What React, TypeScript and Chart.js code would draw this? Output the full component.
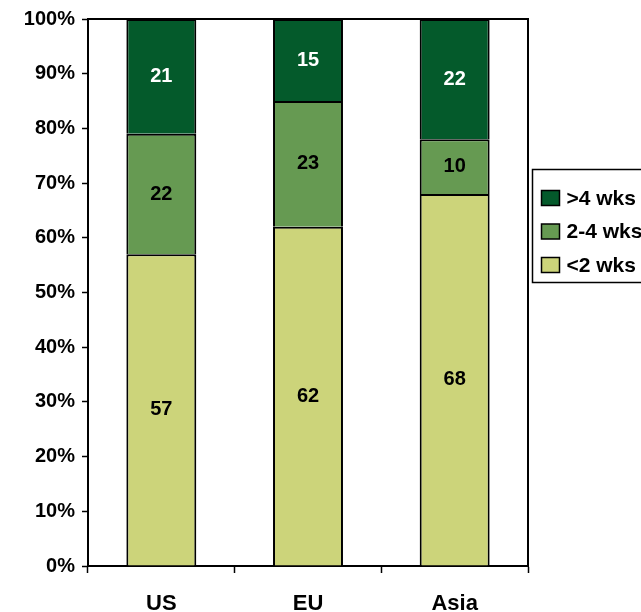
import React, { useEffect, useRef } from "react";
import { Chart, registerables } from "chart.js";

Chart.register(...registerables);

const regions = ["US", "EU", "Asia"];
const under2Weeks = [57, 62, 68];
const twoToFourWeeks = [22, 23, 10];
const over4Weeks = [21, 15, 22];
const percentTicks = [0, 10, 20, 30, 40, 50, 60, 70, 80, 90, 100];

const FONT = "'Liberation Sans', Arial, sans-serif";
const LIGHT = "#CCD47A";
const MID = "#669A52";
const DARK = "#045A2B";

// Value labels centred inside each stacked segment
const segmentLabels = {
  id: "segmentLabels",
  afterDatasetsDraw(chart: any) {
    const ctx = chart.ctx;
    ctx.save();
    ctx.font = `bold 20px ${FONT}`;
    ctx.textAlign = "center";
    ctx.textBaseline = "middle";
    chart.data.datasets.forEach((ds: any, i: number) => {
      const meta = chart.getDatasetMeta(i);
      ctx.fillStyle = ds.labelColor;
      meta.data.forEach((bar: any, j: number) => {
        const y = (bar.y + bar.base) / 2;
        ctx.fillText(String(ds.data[j]), bar.x, y);
      });
    });
    ctx.restore();
  },
};

// Frame line along the top and right of the plot, plus the boxed legend
const frameAndLegend = {
  id: "frameAndLegend",
  afterDraw(chart: any) {
    const ctx = chart.ctx;
    const { left, right, top, bottom } = chart.chartArea;
    ctx.save();
    ctx.strokeStyle = "#000";
    ctx.lineWidth = 2;
    ctx.beginPath();
    ctx.moveTo(left, top);
    ctx.lineTo(right, top);
    ctx.lineTo(right, bottom);
    ctx.stroke();

    const boxX = right + 4.5;
    const boxY = 169.5;
    ctx.lineWidth = 1.5;
    ctx.strokeRect(boxX, boxY, 130, 113);

    const items = chart.data.datasets.slice().reverse();
    ctx.font = `bold 21px ${FONT}`;
    ctx.textAlign = "left";
    ctx.textBaseline = "middle";
    items.forEach((ds: any, k: number) => {
      const cy = 198 + k * 33.5;
      ctx.fillStyle = ds.backgroundColor;
      ctx.fillRect(boxX + 9, cy - 7.5, 18, 15);
      ctx.lineWidth = 1.5;
      ctx.strokeStyle = "#000";
      ctx.strokeRect(boxX + 9, cy - 7.5, 18, 15);
      ctx.fillStyle = "#000";
      ctx.fillText(ds.label, boxX + 34, cy + 1);
    });
    ctx.restore();
  },
};

export default function App() {
  const canvasRef = useRef<HTMLCanvasElement | null>(null);

  useEffect(() => {
    if (!canvasRef.current) return;
    // Each segment outlines its sides and top; the base edge is left to the segment below
    const barStyle = {
      borderColor: "#000",
      borderWidth: 2,
      borderSkipped: "start",
      categoryPercentage: 1,
      barPercentage: 0.477,
    };
    const chart = new Chart(canvasRef.current, {
      type: "bar",
      data: {
        labels: regions,
        datasets: [
          { label: "<2 wks", data: under2Weeks, backgroundColor: LIGHT, labelColor: "#000", ...barStyle } as any,
          { label: "2-4 wks", data: twoToFourWeeks, backgroundColor: MID, labelColor: "#000", ...barStyle } as any,
          { label: ">4 wks", data: over4Weeks, backgroundColor: DARK, labelColor: "#fff", ...barStyle } as any,
        ],
      },
      options: {
        animation: false,
        responsive: false,
        maintainAspectRatio: false,
        layout: { padding: { top: 17, right: 113, left: 0, bottom: 0 } },
        plugins: { legend: { display: false }, tooltip: { enabled: false } },
        scales: {
          x: {
            stacked: true,
            afterFit: (scale: any) => {
              scale.height = 46;
            },
            grid: {
              display: true,
              drawOnChartArea: false,
              drawTicks: true,
              tickLength: 7,
              tickWidth: 1.5,
              color: "#000",
              offset: true,
            },
            border: { display: true, color: "#000", width: 2 },
            ticks: {
              color: "#000",
              font: { family: FONT, size: 22, weight: "bold" },
              padding: 18,
              maxRotation: 0,
            },
          },
          y: {
            stacked: true,
            min: percentTicks[0],
            max: percentTicks[percentTicks.length - 1],
            afterFit: (scale: any) => {
              scale.width = 88;
            },
            afterBuildTicks: (scale: any) => {
              scale.ticks = percentTicks.map((v) => ({ value: v }));
            },
            grid: {
              display: true,
              drawOnChartArea: false,
              drawTicks: true,
              tickLength: 6,
              tickWidth: 1.5,
              color: "#000",
            },
            border: { display: true, color: "#000", width: 2 },
            ticks: {
              color: "#000",
              font: { family: FONT, size: 20, weight: "bold" },
              padding: 7,
              callback: (v: any) => `${v}%`,
            },
          },
        },
      } as any,
      plugins: [segmentLabels, frameAndLegend],
    });
    return () => chart.destroy();
  }, []);

  return (
    <div style={{ position: "absolute", left: 0, top: 0, width: 641, height: 612, background: "#fff" }}>
      <canvas ref={canvasRef} width={641} height={612} style={{ display: "block" }} />
    </div>
  );
}
